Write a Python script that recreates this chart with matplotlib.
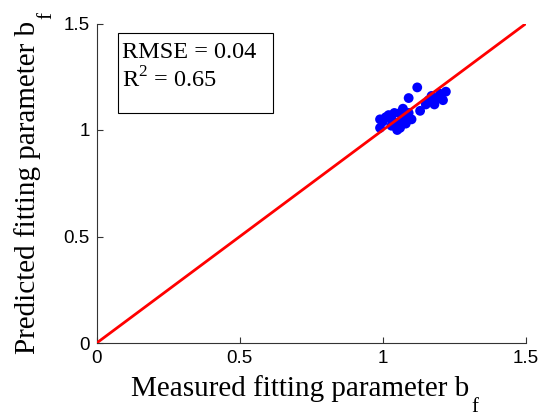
import matplotlib.pyplot as plt
from matplotlib.patches import Rectangle

# measured vs predicted b_f
measured = [0.99, 1.00, 0.99, 1.01, 1.02, 1.03, 1.04, 1.04, 1.05, 1.05,
            1.06, 1.06, 1.07, 1.07, 1.08, 1.09, 1.09, 1.12, 1.13, 1.15,
            1.16, 1.17, 1.18, 1.19, 1.20, 1.22, 1.21, 1.10, 1.03, 1.06]
predicted = [1.01, 1.04, 1.05, 1.06, 1.07, 1.05, 1.08, 1.02, 1.03, 1.00,
             1.01, 1.04, 1.06, 1.10, 1.03, 1.08, 1.15, 1.20, 1.09, 1.12,
             1.14, 1.16, 1.12, 1.15, 1.17, 1.18, 1.14, 1.05, 1.02, 1.08]
ref_line = [0, 1.5]
ticks = [0, 0.5, 1, 1.5]
tick_labels = ["0", "0.5", "1", "1.5"]

W, H = 545, 417
fig = plt.figure(figsize=(W / 100, H / 100), dpi=100, facecolor="white")
ax = fig.add_axes([96.7 / W, 1 - 343 / H, (526 - 96.7) / W, (343 - 23.5) / H])

ax.scatter(measured, predicted, s=50, color="#0000ff", edgecolors="none", zorder=2)
ax.plot(ref_line, ref_line, color="#ff0000", linewidth=2, zorder=3)

ax.set_xlim(0, 1.5)
ax.set_ylim(0, 1.5)
ax.set_xticks(ticks)
ax.set_yticks(ticks)
ax.set_xticklabels(tick_labels, family="Liberation Sans", fontsize=13.5)
ax.set_yticklabels(tick_labels, family="Liberation Sans", fontsize=13.5)
ax.tick_params(direction="in", length=4, width=0.8, colors="#333333",
               labelcolor="black", pad=5)
for side in ("top", "right"):
    ax.spines[side].set_visible(False)
for side in ("left", "bottom"):
    ax.spines[side].set_color("#333333")
    ax.spines[side].set_linewidth(0.8)

# labels with MATLAB-like subscript (drawn as two texts)
serif = "Liberation Serif"
fig.canvas.draw()
renderer = fig.canvas.get_renderer()


def label_with_sub(main, sub, center, base, vertical=False):
    rot = 90 if vertical else 0
    t = fig.text(0, 0, main, family=serif, fontsize=21, rotation=rot,
                 rotation_mode="anchor", ha="left", va="baseline",
                 transform=None)
    s = fig.text(0, 0, sub, family=serif, fontsize=15, rotation=rot,
                 rotation_mode="anchor", ha="left", va="top", transform=None)
    bb = t.get_window_extent(renderer)
    sb = s.get_window_extent(renderer)
    if vertical:
        total = bb.height + 2 + sb.height
        start = center - total / 2
        t.set_position((base, start))
        s.set_position((base + 2, start + bb.height + 2))
    else:
        total = bb.width + 2 + sb.width
        start = center - total / 2
        t.set_position((start, base))
        s.set_position((start + bb.width + 2, base - 2))


label_with_sub("Measured fitting parameter b", "f", 305, H - 396)
label_with_sub("Predicted fitting parameter b", "f", H - 183, 35, vertical=True)

# statistics box
fig.patches.append(Rectangle((118 / W, 1 - 113 / H), 155 / W, 80 / H,
                             transform=fig.transFigure, facecolor="white",
                             edgecolor="black", linewidth=0.8, zorder=4))
fig.text(122 / W, 1 - 58 / H, "RMSE = 0.04", family=serif, fontsize=17.5,
         ha="left", va="baseline", zorder=5)
fig.text(122 / W, 1 - 88 / H, "R$^\\mathregular{2}$ = 0.65", family=serif,
         fontsize=17.5, ha="left", va="baseline", zorder=5)

fig.savefig("out.png", dpi=100, facecolor="white")
